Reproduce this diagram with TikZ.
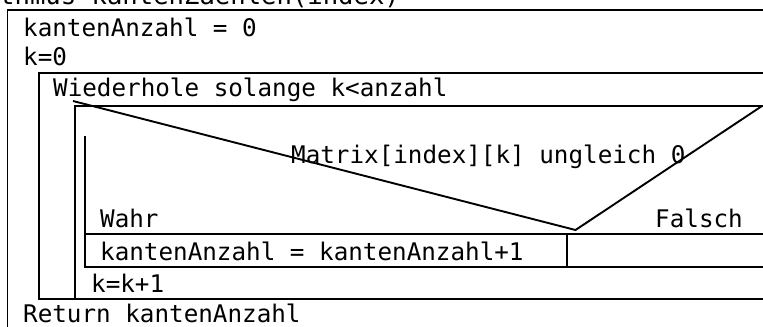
\documentclass[tikz,border=0pt]{standalone}
\usepackage{fontspec}
\newfontfamily\codefont{DejaVu Sans Mono}
\begin{document}
\begin{tikzpicture}[x=1bp,y=-1bp,
  nsline/.style={line width=1.9bp, line cap=rect},
  code/.style={font=\codefont\fontsize{24.25bp}{29bp}\selectfont, anchor=base west, inner sep=0pt},
  title/.style={font=\codefont\fontsize{25.6bp}{30bp}\selectfont, anchor=base west, inner sep=0pt}]
\useasboundingbox (0,0) rectangle (763,326);
\clip (0,0) rectangle (763,326);

% header (partly outside the page)
\node[title] (head) at (-1,4) {thmus kantenZaehlen(index)};

% outer block
\coordinate (outTL) at (7.5,10);
\draw[nsline] (outTL) -- (780,10);
\draw[nsline] (outTL) -- (7.5,340);
\node[code] (init1) at (23,36) {kantenAnzahl = 0};
\node[code] (init2) at (23,65) {k=0};

% while loop
\coordinate (loopTL) at (39,73);
\coordinate (loopBL) at (39,299);
\draw[nsline] (loopTL) -- (780,73);
\draw[nsline] (loopTL) -- (loopBL) -- (780,299);
\node[code] (loophead) at (53,96) {Wiederhole solange k<anzahl};

% loop body
\coordinate (bodyTL) at (75,106);
\draw[nsline] (bodyTL) -- (780,106);
\draw[nsline] (bodyTL) -- (75,299);

% if block
\coordinate (condL) at (73,101);
\coordinate (condApex) at (575.5,230);
\coordinate (condR) at (762,106);
\draw[nsline, line cap=butt] (condL) -- (condApex) -- (condR);
\node[code] (cond) at (291,163) {Matrix[index][k] ungleich 0};
\draw[nsline] (85,137) -- (85,267);
\node[code] (yes) at (100,227) {Wahr};
\node[code] (no) at (655,227) {Falsch};
\draw[nsline] (85,234) -- (780,234);
\draw[nsline] (85,267) -- (780,267);
\draw[nsline] (567,234) -- (567,267);
\node[code] (incr) at (100,260) {kantenAnzahl = kantenAnzahl+1};

\node[code] (step) at (91,292) {k=k+1};

\node[code] (ret) at (23,322) {Return kantenAnzahl};
\end{tikzpicture}
\end{document}
